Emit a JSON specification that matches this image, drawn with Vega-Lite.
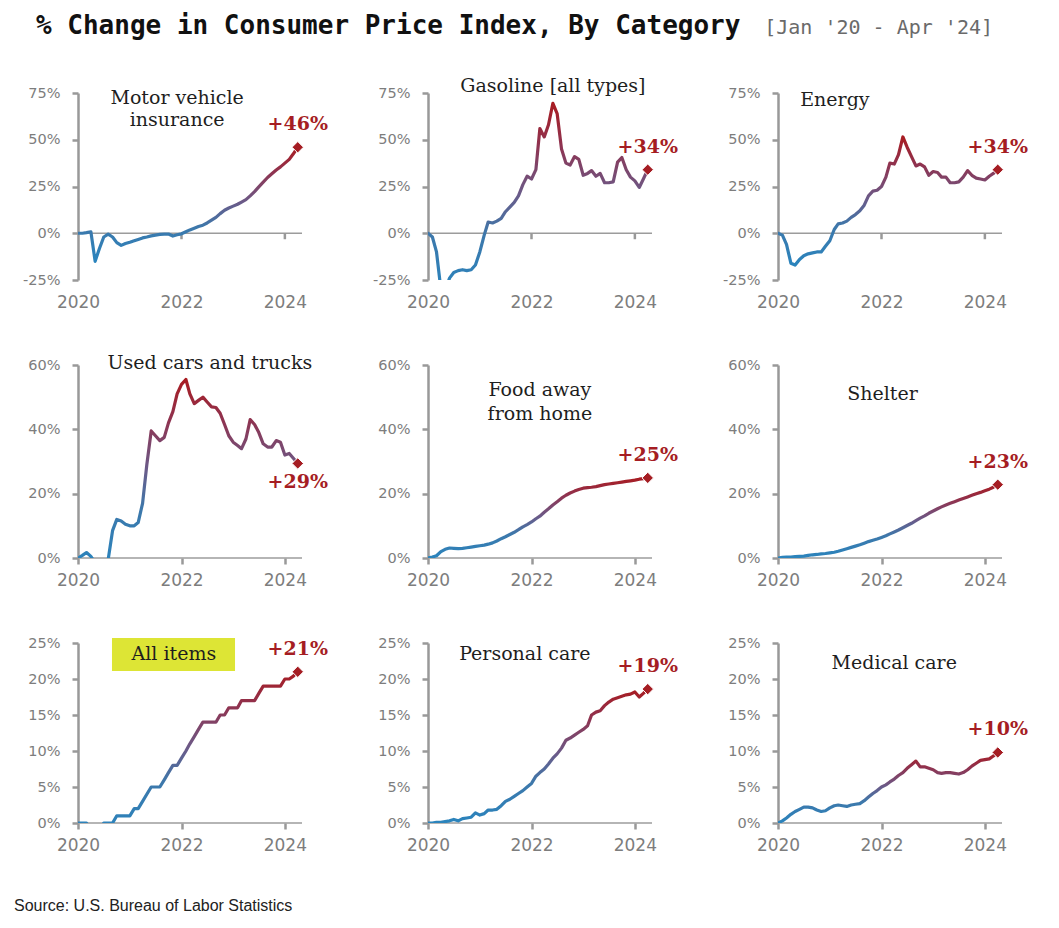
{
  "$schema": "https://vega.github.io/schema/vega-lite/v6.json",
  "background": "white",
  "padding": {"left": 14, "top": 13, "right": 5, "bottom": 5},
  "columns": 3,
  "spacing": {"row": 85, "column": 126},
  "bounds": "flush",
  "datasets": {
    "mvi": [{"m":"2020-01","v":0},{"m":"2020-02","v":0},{"m":"2020-03","v":0.3},{"m":"2020-04","v":0.8},{"m":"2020-05","v":-15},{"m":"2020-06","v":-8},{"m":"2020-07","v":-2},{"m":"2020-08","v":-0.5},{"m":"2020-09","v":-2},{"m":"2020-10","v":-5},{"m":"2020-11","v":-6.5},{"m":"2020-12","v":-5.5},{"m":"2021-01","v":-4.8},{"m":"2021-02","v":-4},{"m":"2021-03","v":-3.3},{"m":"2021-04","v":-2.5},{"m":"2021-05","v":-2},{"m":"2021-06","v":-1.4},{"m":"2021-07","v":-1},{"m":"2021-08","v":-0.6},{"m":"2021-09","v":-0.5},{"m":"2021-10","v":-0.4},{"m":"2021-11","v":-1.5},{"m":"2021-12","v":-0.8},{"m":"2022-01","v":-0.3},{"m":"2022-02","v":0.8},{"m":"2022-03","v":1.8},{"m":"2022-04","v":2.7},{"m":"2022-05","v":3.6},{"m":"2022-06","v":4.3},{"m":"2022-07","v":5.5},{"m":"2022-08","v":7},{"m":"2022-09","v":8.5},{"m":"2022-10","v":10.5},{"m":"2022-11","v":12.3},{"m":"2022-12","v":13.5},{"m":"2023-01","v":14.5},{"m":"2023-02","v":15.5},{"m":"2023-03","v":16.7},{"m":"2023-04","v":18},{"m":"2023-05","v":20},{"m":"2023-06","v":22.3},{"m":"2023-07","v":24.8},{"m":"2023-08","v":27.3},{"m":"2023-09","v":29.8},{"m":"2023-10","v":31.8},{"m":"2023-11","v":33.8},{"m":"2023-12","v":35.5},{"m":"2024-01","v":37.5},{"m":"2024-02","v":39.5},{"m":"2024-03","v":42.5},{"m":"2024-04","v":46}],
    "gas": [{"m":"2020-01","v":0},{"m":"2020-02","v":-2},{"m":"2020-03","v":-10},{"m":"2020-04","v":-30},{"m":"2020-05","v":-31},{"m":"2020-06","v":-24},{"m":"2020-07","v":-21},{"m":"2020-08","v":-20},{"m":"2020-09","v":-19.5},{"m":"2020-10","v":-20},{"m":"2020-11","v":-19.5},{"m":"2020-12","v":-17},{"m":"2021-01","v":-10},{"m":"2021-02","v":-1},{"m":"2021-03","v":6},{"m":"2021-04","v":5.5},{"m":"2021-05","v":6.5},{"m":"2021-06","v":8},{"m":"2021-07","v":11.5},{"m":"2021-08","v":14},{"m":"2021-09","v":16.5},{"m":"2021-10","v":20},{"m":"2021-11","v":26},{"m":"2021-12","v":30.5},{"m":"2022-01","v":29},{"m":"2022-02","v":34},{"m":"2022-03","v":56},{"m":"2022-04","v":51.5},{"m":"2022-05","v":58},{"m":"2022-06","v":69.5},{"m":"2022-07","v":64},{"m":"2022-08","v":45},{"m":"2022-09","v":37.5},{"m":"2022-10","v":36.5},{"m":"2022-11","v":41},{"m":"2022-12","v":39.5},{"m":"2023-01","v":31},{"m":"2023-02","v":32},{"m":"2023-03","v":33.5},{"m":"2023-04","v":30.5},{"m":"2023-05","v":32},{"m":"2023-06","v":27},{"m":"2023-07","v":27},{"m":"2023-08","v":27.5},{"m":"2023-09","v":38},{"m":"2023-10","v":40.5},{"m":"2023-11","v":34},{"m":"2023-12","v":30},{"m":"2024-01","v":28},{"m":"2024-02","v":24.5},{"m":"2024-03","v":29},{"m":"2024-04","v":34}],
    "energy": [{"m":"2020-01","v":0},{"m":"2020-02","v":-1},{"m":"2020-03","v":-6},{"m":"2020-04","v":-16},{"m":"2020-05","v":-17},{"m":"2020-06","v":-14},{"m":"2020-07","v":-12},{"m":"2020-08","v":-11},{"m":"2020-09","v":-10.5},{"m":"2020-10","v":-10},{"m":"2020-11","v":-10},{"m":"2020-12","v":-7},{"m":"2021-01","v":-4},{"m":"2021-02","v":2},{"m":"2021-03","v":5},{"m":"2021-04","v":5.5},{"m":"2021-05","v":6.5},{"m":"2021-06","v":8.5},{"m":"2021-07","v":10},{"m":"2021-08","v":12},{"m":"2021-09","v":15},{"m":"2021-10","v":20},{"m":"2021-11","v":22.5},{"m":"2021-12","v":23},{"m":"2022-01","v":25},{"m":"2022-02","v":30},{"m":"2022-03","v":37.5},{"m":"2022-04","v":37},{"m":"2022-05","v":42},{"m":"2022-06","v":51.5},{"m":"2022-07","v":46},{"m":"2022-08","v":41},{"m":"2022-09","v":36},{"m":"2022-10","v":37},{"m":"2022-11","v":35.5},{"m":"2022-12","v":31},{"m":"2023-01","v":33},{"m":"2023-02","v":32.5},{"m":"2023-03","v":30},{"m":"2023-04","v":30},{"m":"2023-05","v":27},{"m":"2023-06","v":27},{"m":"2023-07","v":27.5},{"m":"2023-08","v":30},{"m":"2023-09","v":33.5},{"m":"2023-10","v":31},{"m":"2023-11","v":29.5},{"m":"2023-12","v":29},{"m":"2024-01","v":28.5},{"m":"2024-02","v":30.5},{"m":"2024-03","v":32},{"m":"2024-04","v":34}],
    "used": [{"m":"2020-01","v":0},{"m":"2020-02","v":0.8},{"m":"2020-03","v":1.7},{"m":"2020-04","v":0.5},{"m":"2020-05","v":-1.5},{"m":"2020-06","v":-2},{"m":"2020-07","v":-1},{"m":"2020-08","v":-0.5},{"m":"2020-09","v":8.5},{"m":"2020-10","v":12},{"m":"2020-11","v":11.5},{"m":"2020-12","v":10.5},{"m":"2021-01","v":10},{"m":"2021-02","v":10},{"m":"2021-03","v":11},{"m":"2021-04","v":17},{"m":"2021-05","v":29},{"m":"2021-06","v":39.5},{"m":"2021-07","v":38},{"m":"2021-08","v":36.5},{"m":"2021-09","v":37.5},{"m":"2021-10","v":42},{"m":"2021-11","v":45.5},{"m":"2021-12","v":51},{"m":"2022-01","v":54},{"m":"2022-02","v":55.5},{"m":"2022-03","v":51},{"m":"2022-04","v":48},{"m":"2022-05","v":49},{"m":"2022-06","v":50},{"m":"2022-07","v":48.5},{"m":"2022-08","v":47},{"m":"2022-09","v":46.8},{"m":"2022-10","v":45},{"m":"2022-11","v":41.5},{"m":"2022-12","v":38},{"m":"2023-01","v":36},{"m":"2023-02","v":35},{"m":"2023-03","v":34},{"m":"2023-04","v":37},{"m":"2023-05","v":43},{"m":"2023-06","v":41.5},{"m":"2023-07","v":39},{"m":"2023-08","v":35.5},{"m":"2023-09","v":34.5},{"m":"2023-10","v":34.5},{"m":"2023-11","v":36.5},{"m":"2023-12","v":36},{"m":"2024-01","v":32},{"m":"2024-02","v":32.5},{"m":"2024-03","v":31},{"m":"2024-04","v":29.4}],
    "food": [{"m":"2020-01","v":0},{"m":"2020-02","v":0.3},{"m":"2020-03","v":0.7},{"m":"2020-04","v":2},{"m":"2020-05","v":2.7},{"m":"2020-06","v":3.1},{"m":"2020-07","v":3},{"m":"2020-08","v":2.9},{"m":"2020-09","v":3},{"m":"2020-10","v":3.2},{"m":"2020-11","v":3.4},{"m":"2020-12","v":3.6},{"m":"2021-01","v":3.8},{"m":"2021-02","v":4},{"m":"2021-03","v":4.3},{"m":"2021-04","v":4.7},{"m":"2021-05","v":5.3},{"m":"2021-06","v":6},{"m":"2021-07","v":6.6},{"m":"2021-08","v":7.3},{"m":"2021-09","v":8},{"m":"2021-10","v":8.8},{"m":"2021-11","v":9.7},{"m":"2021-12","v":10.4},{"m":"2022-01","v":11.2},{"m":"2022-02","v":12.2},{"m":"2022-03","v":13},{"m":"2022-04","v":14.2},{"m":"2022-05","v":15.3},{"m":"2022-06","v":16.5},{"m":"2022-07","v":17.5},{"m":"2022-08","v":18.6},{"m":"2022-09","v":19.5},{"m":"2022-10","v":20.2},{"m":"2022-11","v":20.8},{"m":"2022-12","v":21.3},{"m":"2023-01","v":21.7},{"m":"2023-02","v":21.9},{"m":"2023-03","v":22},{"m":"2023-04","v":22.2},{"m":"2023-05","v":22.5},{"m":"2023-06","v":22.8},{"m":"2023-07","v":23},{"m":"2023-08","v":23.2},{"m":"2023-09","v":23.4},{"m":"2023-10","v":23.6},{"m":"2023-11","v":23.8},{"m":"2023-12","v":24},{"m":"2024-01","v":24.2},{"m":"2024-02","v":24.5},{"m":"2024-03","v":24.7},{"m":"2024-04","v":24.9}],
    "shelter": [{"m":"2020-01","v":0},{"m":"2020-02","v":0.2},{"m":"2020-03","v":0.3},{"m":"2020-04","v":0.3},{"m":"2020-05","v":0.4},{"m":"2020-06","v":0.5},{"m":"2020-07","v":0.6},{"m":"2020-08","v":0.8},{"m":"2020-09","v":1},{"m":"2020-10","v":1.1},{"m":"2020-11","v":1.3},{"m":"2020-12","v":1.4},{"m":"2021-01","v":1.6},{"m":"2021-02","v":1.8},{"m":"2021-03","v":2.1},{"m":"2021-04","v":2.5},{"m":"2021-05","v":2.9},{"m":"2021-06","v":3.3},{"m":"2021-07","v":3.7},{"m":"2021-08","v":4.1},{"m":"2021-09","v":4.6},{"m":"2021-10","v":5.1},{"m":"2021-11","v":5.5},{"m":"2021-12","v":5.9},{"m":"2022-01","v":6.4},{"m":"2022-02","v":6.9},{"m":"2022-03","v":7.5},{"m":"2022-04","v":8.1},{"m":"2022-05","v":8.7},{"m":"2022-06","v":9.4},{"m":"2022-07","v":10.1},{"m":"2022-08","v":10.8},{"m":"2022-09","v":11.6},{"m":"2022-10","v":12.4},{"m":"2022-11","v":13.1},{"m":"2022-12","v":13.9},{"m":"2023-01","v":14.6},{"m":"2023-02","v":15.3},{"m":"2023-03","v":15.9},{"m":"2023-04","v":16.5},{"m":"2023-05","v":17},{"m":"2023-06","v":17.5},{"m":"2023-07","v":18},{"m":"2023-08","v":18.5},{"m":"2023-09","v":19},{"m":"2023-10","v":19.5},{"m":"2023-11","v":20},{"m":"2023-12","v":20.4},{"m":"2024-01","v":20.9},{"m":"2024-02","v":21.4},{"m":"2024-03","v":22},{"m":"2024-04","v":22.8}],
    "all": [{"m":"2020-01","v":0},{"m":"2020-02","v":0},{"m":"2020-03","v":0},{"m":"2020-04","v":-1},{"m":"2020-05","v":-1},{"m":"2020-06","v":-1},{"m":"2020-07","v":0},{"m":"2020-08","v":0},{"m":"2020-09","v":0},{"m":"2020-10","v":1},{"m":"2020-11","v":1},{"m":"2020-12","v":1},{"m":"2021-01","v":1},{"m":"2021-02","v":2},{"m":"2021-03","v":2},{"m":"2021-04","v":3},{"m":"2021-05","v":4},{"m":"2021-06","v":5},{"m":"2021-07","v":5},{"m":"2021-08","v":5},{"m":"2021-09","v":6},{"m":"2021-10","v":7},{"m":"2021-11","v":8},{"m":"2021-12","v":8},{"m":"2022-01","v":9},{"m":"2022-02","v":10},{"m":"2022-03","v":11},{"m":"2022-04","v":12},{"m":"2022-05","v":13},{"m":"2022-06","v":14},{"m":"2022-07","v":14},{"m":"2022-08","v":14},{"m":"2022-09","v":14},{"m":"2022-10","v":15},{"m":"2022-11","v":15},{"m":"2022-12","v":16},{"m":"2023-01","v":16},{"m":"2023-02","v":16},{"m":"2023-03","v":17},{"m":"2023-04","v":17},{"m":"2023-05","v":17},{"m":"2023-06","v":17},{"m":"2023-07","v":18},{"m":"2023-08","v":19},{"m":"2023-09","v":19},{"m":"2023-10","v":19},{"m":"2023-11","v":19},{"m":"2023-12","v":19},{"m":"2024-01","v":20},{"m":"2024-02","v":20},{"m":"2024-03","v":20.4},{"m":"2024-04","v":21}],
    "personal": [{"m":"2020-01","v":0},{"m":"2020-02","v":0},{"m":"2020-03","v":0.1},{"m":"2020-04","v":0.1},{"m":"2020-05","v":0.2},{"m":"2020-06","v":0.3},{"m":"2020-07","v":0.5},{"m":"2020-08","v":0.3},{"m":"2020-09","v":0.6},{"m":"2020-10","v":0.7},{"m":"2020-11","v":0.8},{"m":"2020-12","v":1.4},{"m":"2021-01","v":1.1},{"m":"2021-02","v":1.3},{"m":"2021-03","v":1.8},{"m":"2021-04","v":1.8},{"m":"2021-05","v":1.9},{"m":"2021-06","v":2.4},{"m":"2021-07","v":3},{"m":"2021-08","v":3.3},{"m":"2021-09","v":3.7},{"m":"2021-10","v":4.1},{"m":"2021-11","v":4.5},{"m":"2021-12","v":5},{"m":"2022-01","v":5.5},{"m":"2022-02","v":6.5},{"m":"2022-03","v":7},{"m":"2022-04","v":7.5},{"m":"2022-05","v":8.2},{"m":"2022-06","v":9},{"m":"2022-07","v":9.6},{"m":"2022-08","v":10.4},{"m":"2022-09","v":11.5},{"m":"2022-10","v":11.8},{"m":"2022-11","v":12.2},{"m":"2022-12","v":12.6},{"m":"2023-01","v":13},{"m":"2023-02","v":13.5},{"m":"2023-03","v":15},{"m":"2023-04","v":15.4},{"m":"2023-05","v":15.6},{"m":"2023-06","v":16.3},{"m":"2023-07","v":16.8},{"m":"2023-08","v":17.2},{"m":"2023-09","v":17.4},{"m":"2023-10","v":17.6},{"m":"2023-11","v":17.8},{"m":"2023-12","v":17.9},{"m":"2024-01","v":18.2},{"m":"2024-02","v":17.5},{"m":"2024-03","v":18},{"m":"2024-04","v":18.6}],
    "medical": [{"m":"2020-01","v":0},{"m":"2020-02","v":0.3},{"m":"2020-03","v":0.7},{"m":"2020-04","v":1.2},{"m":"2020-05","v":1.6},{"m":"2020-06","v":1.9},{"m":"2020-07","v":2.2},{"m":"2020-08","v":2.2},{"m":"2020-09","v":2.1},{"m":"2020-10","v":1.8},{"m":"2020-11","v":1.6},{"m":"2020-12","v":1.7},{"m":"2021-01","v":2.1},{"m":"2021-02","v":2.4},{"m":"2021-03","v":2.5},{"m":"2021-04","v":2.4},{"m":"2021-05","v":2.3},{"m":"2021-06","v":2.5},{"m":"2021-07","v":2.6},{"m":"2021-08","v":2.7},{"m":"2021-09","v":3.1},{"m":"2021-10","v":3.6},{"m":"2021-11","v":4.1},{"m":"2021-12","v":4.5},{"m":"2022-01","v":5},{"m":"2022-02","v":5.3},{"m":"2022-03","v":5.7},{"m":"2022-04","v":6.1},{"m":"2022-05","v":6.6},{"m":"2022-06","v":7},{"m":"2022-07","v":7.6},{"m":"2022-08","v":8.1},{"m":"2022-09","v":8.6},{"m":"2022-10","v":7.8},{"m":"2022-11","v":7.8},{"m":"2022-12","v":7.6},{"m":"2023-01","v":7.4},{"m":"2023-02","v":7},{"m":"2023-03","v":6.9},{"m":"2023-04","v":7},{"m":"2023-05","v":7},{"m":"2023-06","v":6.9},{"m":"2023-07","v":6.8},{"m":"2023-08","v":7},{"m":"2023-09","v":7.4},{"m":"2023-10","v":7.9},{"m":"2023-11","v":8.3},{"m":"2023-12","v":8.7},{"m":"2024-01","v":8.8},{"m":"2024-02","v":8.9},{"m":"2024-03","v":9.3},{"m":"2024-04","v":9.8}]
  },
  "concat": [
    {
      "width": 224, "height": 187,
      "data": {"name": "mvi"},
      "title": {"text": "% Change in Consumer Price Index, By Category", "anchor": "start", "frame": "group", "dx": -42, "offset": 25, "font": "DejaVu Sans Mono", "fontSize": 26, "fontWeight": "bold", "color": "#111111", "baseline": "alphabetic"},
      "encoding": {
        "x": {"field": "m", "type": "temporal", "scale": {"type": "utc", "domain": [{"year": 2020, "month": 1, "date": 1, "utc": true}, {"year": 2024, "month": 5, "date": 1, "utc": true}]}, "axis": {"values": [{"year": 2020, "month": 1, "date": 1, "utc": true}, {"year": 2022, "month": 1, "date": 1, "utc": true}, {"year": 2024, "month": 1, "date": 1, "utc": true}], "format": "%Y", "formatType": "utc", "ticks": false, "labelPadding": 14}},
        "y": {"field": "v", "type": "quantitative", "scale": {"domain": [-25, 75], "nice": false, "zero": false}, "axis": {"values": [-25, 0, 25, 50, 75], "labelExpr": "datum.value + '%'", "labelOverlap": false}}
      },
      "layer": [
        {"transform": [{"filter": "time(toDate(datum.m)) === utc(2024,3,1)"}], "mark": {"type": "rule", "color": "#9c9c9c", "strokeWidth": 1.6}, "encoding": {"x": null, "y": {"datum": 0, "type": "quantitative"}}},
        {"transform": [{"filter": "time(toDate(datum.m)) === utc(2022,0,1) || time(toDate(datum.m)) === utc(2024,0,1)"}], "mark": {"type": "rule", "color": "#999999", "strokeWidth": 2.5}, "encoding": {"y": {"datum": 0, "type": "quantitative"}, "y2": {"datum": -3.2}}},
        {"mark": {"type": "line", "clip": true, "strokeWidth": 3.2, "strokeJoin": "round", "strokeCap": "round", "color": {"gradient": "linear", "x1": 0, "y1": 1, "x2": 0, "y2": 0, "stops": [{"offset": 0, "color": "#2a84bd"}, {"offset": 0.3, "color": "#3d78ab"}, {"offset": 0.52, "color": "#6b5a88"}, {"offset": 0.78, "color": "#8f3350"}, {"offset": 1, "color": "#a81c22"}]}}},
        {"transform": [{"filter": "time(toDate(datum.m)) === utc(2024,3,1)"}], "mark": {"type": "point", "shape": "diamond", "filled": true, "size": 130, "color": "#a51d23", "stroke": "white", "strokeWidth": 1, "opacity": 1}},
        {"transform": [{"filter": "time(toDate(datum.m)) === utc(2024,3,1)"}, {"calculate": "'+' + format(datum.v, '.0f') + '%'", "as": "lbl"}], "mark": {"type": "text", "font": "DejaVu Serif", "fontSize": 19, "fontWeight": "bold", "color": "#a51d23", "align": "center", "baseline": "alphabetic", "dy": -17}, "encoding": {"text": {"field": "lbl"}}},
        {"transform": [{"filter": "time(toDate(datum.m)) === utc(2024,3,1)"}], "mark": {"type": "text", "text": ["Motor vehicle", "insurance"], "font": "DejaVu Serif", "fontSize": 19, "color": "#1e1e1e", "align": "center", "baseline": "alphabetic", "lineHeight": 22}, "encoding": {"x": {"datum": {"year": 2021, "month": 12, "date": 1, "utc": true}, "type": "temporal"}, "y": {"datum": 69, "type": "quantitative"}}}
      ]
    },
    {
      "width": 224, "height": 187,
      "data": {"name": "gas"},
      "encoding": {
        "x": {"field": "m", "type": "temporal", "scale": {"type": "utc", "domain": [{"year": 2020, "month": 1, "date": 1, "utc": true}, {"year": 2024, "month": 5, "date": 1, "utc": true}]}, "axis": {"values": [{"year": 2020, "month": 1, "date": 1, "utc": true}, {"year": 2022, "month": 1, "date": 1, "utc": true}, {"year": 2024, "month": 1, "date": 1, "utc": true}], "format": "%Y", "formatType": "utc", "ticks": false, "labelPadding": 14}},
        "y": {"field": "v", "type": "quantitative", "scale": {"domain": [-25, 75], "nice": false, "zero": false}, "axis": {"values": [-25, 0, 25, 50, 75], "labelExpr": "datum.value + '%'", "labelOverlap": false}}
      },
      "layer": [
        {"transform": [{"filter": "time(toDate(datum.m)) === utc(2024,3,1)"}], "mark": {"type": "rule", "color": "#9c9c9c", "strokeWidth": 1.6}, "encoding": {"x": null, "y": {"datum": 0, "type": "quantitative"}}},
        {"transform": [{"filter": "time(toDate(datum.m)) === utc(2022,0,1) || time(toDate(datum.m)) === utc(2024,0,1)"}], "mark": {"type": "rule", "color": "#999999", "strokeWidth": 2.5}, "encoding": {"y": {"datum": 0, "type": "quantitative"}, "y2": {"datum": -3.2}}},
        {"mark": {"type": "line", "clip": true, "strokeWidth": 3.2, "strokeJoin": "round", "strokeCap": "round", "color": {"gradient": "linear", "x1": 0, "y1": 1, "x2": 0, "y2": 0, "stops": [{"offset": 0, "color": "#2a84bd"}, {"offset": 0.3, "color": "#3d78ab"}, {"offset": 0.52, "color": "#6b5a88"}, {"offset": 0.78, "color": "#8f3350"}, {"offset": 1, "color": "#a81c22"}]}}},
        {"transform": [{"filter": "time(toDate(datum.m)) === utc(2024,3,1)"}], "mark": {"type": "point", "shape": "diamond", "filled": true, "size": 130, "color": "#a51d23", "stroke": "white", "strokeWidth": 1, "opacity": 1}},
        {"transform": [{"filter": "time(toDate(datum.m)) === utc(2024,3,1)"}, {"calculate": "'+' + format(datum.v, '.0f') + '%'", "as": "lbl"}], "mark": {"type": "text", "font": "DejaVu Serif", "fontSize": 19, "fontWeight": "bold", "color": "#a51d23", "align": "center", "baseline": "alphabetic", "dy": -17}, "encoding": {"text": {"field": "lbl"}}},
        {"transform": [{"filter": "time(toDate(datum.m)) === utc(2024,3,1)"}], "mark": {"type": "text", "text": "Gasoline [all types]", "font": "DejaVu Serif", "fontSize": 19, "color": "#1e1e1e", "align": "center", "baseline": "alphabetic"}, "encoding": {"x": {"datum": {"year": 2022, "month": 6, "date": 1, "utc": true}, "type": "temporal"}, "y": {"datum": 75.5, "type": "quantitative"}}}
      ]
    },
    {
      "width": 224, "height": 187,
      "data": {"name": "energy"},
      "title": {"text": "[Jan '20 - Apr '24]", "anchor": "end", "frame": "group", "dx": -9, "offset": 31, "font": "DejaVu Sans Mono", "fontSize": 20, "fontWeight": "normal", "color": "#6a6a6a", "baseline": "alphabetic"},
      "encoding": {
        "x": {"field": "m", "type": "temporal", "scale": {"type": "utc", "domain": [{"year": 2020, "month": 1, "date": 1, "utc": true}, {"year": 2024, "month": 5, "date": 1, "utc": true}]}, "axis": {"values": [{"year": 2020, "month": 1, "date": 1, "utc": true}, {"year": 2022, "month": 1, "date": 1, "utc": true}, {"year": 2024, "month": 1, "date": 1, "utc": true}], "format": "%Y", "formatType": "utc", "ticks": false, "labelPadding": 14}},
        "y": {"field": "v", "type": "quantitative", "scale": {"domain": [-25, 75], "nice": false, "zero": false}, "axis": {"values": [-25, 0, 25, 50, 75], "labelExpr": "datum.value + '%'", "labelOverlap": false}}
      },
      "layer": [
        {"transform": [{"filter": "time(toDate(datum.m)) === utc(2024,3,1)"}], "mark": {"type": "rule", "color": "#9c9c9c", "strokeWidth": 1.6}, "encoding": {"x": null, "y": {"datum": 0, "type": "quantitative"}}},
        {"transform": [{"filter": "time(toDate(datum.m)) === utc(2022,0,1) || time(toDate(datum.m)) === utc(2024,0,1)"}], "mark": {"type": "rule", "color": "#999999", "strokeWidth": 2.5}, "encoding": {"y": {"datum": 0, "type": "quantitative"}, "y2": {"datum": -3.2}}},
        {"mark": {"type": "line", "clip": true, "strokeWidth": 3.2, "strokeJoin": "round", "strokeCap": "round", "color": {"gradient": "linear", "x1": 0, "y1": 1, "x2": 0, "y2": 0, "stops": [{"offset": 0, "color": "#2a84bd"}, {"offset": 0.3, "color": "#3d78ab"}, {"offset": 0.52, "color": "#6b5a88"}, {"offset": 0.78, "color": "#8f3350"}, {"offset": 1, "color": "#a81c22"}]}}},
        {"transform": [{"filter": "time(toDate(datum.m)) === utc(2024,3,1)"}], "mark": {"type": "point", "shape": "diamond", "filled": true, "size": 130, "color": "#a51d23", "stroke": "white", "strokeWidth": 1, "opacity": 1}},
        {"transform": [{"filter": "time(toDate(datum.m)) === utc(2024,3,1)"}, {"calculate": "'+' + format(datum.v, '.0f') + '%'", "as": "lbl"}], "mark": {"type": "text", "font": "DejaVu Serif", "fontSize": 19, "fontWeight": "bold", "color": "#a51d23", "align": "center", "baseline": "alphabetic", "dy": -17}, "encoding": {"text": {"field": "lbl"}}},
        {"transform": [{"filter": "time(toDate(datum.m)) === utc(2024,3,1)"}], "mark": {"type": "text", "text": "Energy", "font": "DejaVu Serif", "fontSize": 19, "color": "#1e1e1e", "align": "center", "baseline": "alphabetic"}, "encoding": {"x": {"datum": {"year": 2021, "month": 2, "date": 6, "utc": true}, "type": "temporal"}, "y": {"datum": 68, "type": "quantitative"}}}
      ]
    },
    {
      "width": 224, "height": 193,
      "data": {"name": "used"},
      "encoding": {
        "x": {"field": "m", "type": "temporal", "scale": {"type": "utc", "domain": [{"year": 2020, "month": 1, "date": 1, "utc": true}, {"year": 2024, "month": 5, "date": 1, "utc": true}]}, "axis": {"values": [{"year": 2020, "month": 1, "date": 1, "utc": true}, {"year": 2022, "month": 1, "date": 1, "utc": true}, {"year": 2024, "month": 1, "date": 1, "utc": true}], "format": "%Y", "formatType": "utc", "ticks": true, "labelPadding": 8}},
        "y": {"field": "v", "type": "quantitative", "scale": {"domain": [0, 60], "nice": false}, "axis": {"values": [0, 20, 40, 60], "labelExpr": "datum.value + '%'", "labelOverlap": false}}
      },
      "layer": [
        {"transform": [{"filter": "time(toDate(datum.m)) === utc(2024,3,1)"}], "mark": {"type": "rule", "color": "#9c9c9c", "strokeWidth": 1.6}, "encoding": {"x": null, "y": {"datum": 0, "type": "quantitative"}}},
        {"mark": {"type": "line", "clip": true, "strokeWidth": 3.2, "strokeJoin": "round", "strokeCap": "round", "color": {"gradient": "linear", "x1": 0, "y1": 1, "x2": 0, "y2": 0, "stops": [{"offset": 0, "color": "#2a84bd"}, {"offset": 0.3, "color": "#3d78ab"}, {"offset": 0.52, "color": "#6b5a88"}, {"offset": 0.78, "color": "#8f3350"}, {"offset": 1, "color": "#a81c22"}]}}},
        {"transform": [{"filter": "time(toDate(datum.m)) === utc(2024,3,1)"}], "mark": {"type": "point", "shape": "diamond", "filled": true, "size": 130, "color": "#a51d23", "stroke": "white", "strokeWidth": 1, "opacity": 1}},
        {"transform": [{"filter": "time(toDate(datum.m)) === utc(2024,3,1)"}, {"calculate": "'+' + format(datum.v, '.0f') + '%'", "as": "lbl"}], "mark": {"type": "text", "font": "DejaVu Serif", "fontSize": 19, "fontWeight": "bold", "color": "#a51d23", "align": "center", "baseline": "top", "dy": 10}, "encoding": {"text": {"field": "lbl"}}},
        {"transform": [{"filter": "time(toDate(datum.m)) === utc(2024,3,1)"}], "mark": {"type": "text", "text": "Used cars and trucks", "font": "DejaVu Serif", "fontSize": 19, "color": "#1e1e1e", "align": "center", "baseline": "alphabetic"}, "encoding": {"x": {"datum": {"year": 2022, "month": 7, "date": 20, "utc": true}, "type": "temporal"}, "y": {"datum": 58.8, "type": "quantitative"}}}
      ]
    },
    {
      "width": 224, "height": 193,
      "data": {"name": "food"},
      "encoding": {
        "x": {"field": "m", "type": "temporal", "scale": {"type": "utc", "domain": [{"year": 2020, "month": 1, "date": 1, "utc": true}, {"year": 2024, "month": 5, "date": 1, "utc": true}]}, "axis": {"values": [{"year": 2020, "month": 1, "date": 1, "utc": true}, {"year": 2022, "month": 1, "date": 1, "utc": true}, {"year": 2024, "month": 1, "date": 1, "utc": true}], "format": "%Y", "formatType": "utc", "ticks": true, "labelPadding": 8}},
        "y": {"field": "v", "type": "quantitative", "scale": {"domain": [0, 60], "nice": false}, "axis": {"values": [0, 20, 40, 60], "labelExpr": "datum.value + '%'", "labelOverlap": false}}
      },
      "layer": [
        {"transform": [{"filter": "time(toDate(datum.m)) === utc(2024,3,1)"}], "mark": {"type": "rule", "color": "#9c9c9c", "strokeWidth": 1.6}, "encoding": {"x": null, "y": {"datum": 0, "type": "quantitative"}}},
        {"mark": {"type": "line", "clip": true, "strokeWidth": 3.2, "strokeJoin": "round", "strokeCap": "round", "color": {"gradient": "linear", "x1": 0, "y1": 1, "x2": 0, "y2": 0, "stops": [{"offset": 0, "color": "#2a84bd"}, {"offset": 0.3, "color": "#3d78ab"}, {"offset": 0.52, "color": "#6b5a88"}, {"offset": 0.78, "color": "#8f3350"}, {"offset": 1, "color": "#a81c22"}]}}},
        {"transform": [{"filter": "time(toDate(datum.m)) === utc(2024,3,1)"}], "mark": {"type": "point", "shape": "diamond", "filled": true, "size": 130, "color": "#a51d23", "stroke": "white", "strokeWidth": 1, "opacity": 1}},
        {"transform": [{"filter": "time(toDate(datum.m)) === utc(2024,3,1)"}, {"calculate": "'+' + format(datum.v, '.0f') + '%'", "as": "lbl"}], "mark": {"type": "text", "font": "DejaVu Serif", "fontSize": 19, "fontWeight": "bold", "color": "#a51d23", "align": "center", "baseline": "alphabetic", "dy": -17}, "encoding": {"text": {"field": "lbl"}}},
        {"transform": [{"filter": "time(toDate(datum.m)) === utc(2024,3,1)"}], "mark": {"type": "text", "text": ["Food away", "from home"], "font": "DejaVu Serif", "fontSize": 19, "color": "#1e1e1e", "align": "center", "baseline": "alphabetic", "lineHeight": 24}, "encoding": {"x": {"datum": {"year": 2022, "month": 3, "date": 1, "utc": true}, "type": "temporal"}, "y": {"datum": 50.3, "type": "quantitative"}}}
      ]
    },
    {
      "width": 224, "height": 193,
      "data": {"name": "shelter"},
      "encoding": {
        "x": {"field": "m", "type": "temporal", "scale": {"type": "utc", "domain": [{"year": 2020, "month": 1, "date": 1, "utc": true}, {"year": 2024, "month": 5, "date": 1, "utc": true}]}, "axis": {"values": [{"year": 2020, "month": 1, "date": 1, "utc": true}, {"year": 2022, "month": 1, "date": 1, "utc": true}, {"year": 2024, "month": 1, "date": 1, "utc": true}], "format": "%Y", "formatType": "utc", "ticks": true, "labelPadding": 8}},
        "y": {"field": "v", "type": "quantitative", "scale": {"domain": [0, 60], "nice": false}, "axis": {"values": [0, 20, 40, 60], "labelExpr": "datum.value + '%'", "labelOverlap": false}}
      },
      "layer": [
        {"transform": [{"filter": "time(toDate(datum.m)) === utc(2024,3,1)"}], "mark": {"type": "rule", "color": "#9c9c9c", "strokeWidth": 1.6}, "encoding": {"x": null, "y": {"datum": 0, "type": "quantitative"}}},
        {"mark": {"type": "line", "clip": true, "strokeWidth": 3.2, "strokeJoin": "round", "strokeCap": "round", "color": {"gradient": "linear", "x1": 0, "y1": 1, "x2": 0, "y2": 0, "stops": [{"offset": 0, "color": "#2a84bd"}, {"offset": 0.3, "color": "#3d78ab"}, {"offset": 0.52, "color": "#6b5a88"}, {"offset": 0.78, "color": "#8f3350"}, {"offset": 1, "color": "#a81c22"}]}}},
        {"transform": [{"filter": "time(toDate(datum.m)) === utc(2024,3,1)"}], "mark": {"type": "point", "shape": "diamond", "filled": true, "size": 130, "color": "#a51d23", "stroke": "white", "strokeWidth": 1, "opacity": 1}},
        {"transform": [{"filter": "time(toDate(datum.m)) === utc(2024,3,1)"}, {"calculate": "'+' + format(datum.v, '.0f') + '%'", "as": "lbl"}], "mark": {"type": "text", "font": "DejaVu Serif", "fontSize": 19, "fontWeight": "bold", "color": "#a51d23", "align": "center", "baseline": "alphabetic", "dy": -17}, "encoding": {"text": {"field": "lbl"}}},
        {"transform": [{"filter": "time(toDate(datum.m)) === utc(2024,3,1)"}], "mark": {"type": "text", "text": "Shelter", "font": "DejaVu Serif", "fontSize": 19, "color": "#1e1e1e", "align": "center", "baseline": "alphabetic"}, "encoding": {"x": {"datum": {"year": 2022, "month": 1, "date": 8, "utc": true}, "type": "temporal"}, "y": {"datum": 49, "type": "quantitative"}}}
      ]
    },
    {
      "width": 224, "height": 180,
      "data": {"name": "all"},
      "title": {"text": "Source: U.S. Bureau of Labor Statistics", "orient": "bottom", "anchor": "start", "frame": "group", "dx": -64, "offset": 45, "font": "Liberation Sans", "fontSize": 16, "fontWeight": "normal", "color": "#222222"},
      "encoding": {
        "x": {"field": "m", "type": "temporal", "scale": {"type": "utc", "domain": [{"year": 2020, "month": 1, "date": 1, "utc": true}, {"year": 2024, "month": 5, "date": 1, "utc": true}]}, "axis": {"values": [{"year": 2020, "month": 1, "date": 1, "utc": true}, {"year": 2022, "month": 1, "date": 1, "utc": true}, {"year": 2024, "month": 1, "date": 1, "utc": true}], "format": "%Y", "formatType": "utc", "ticks": true, "labelPadding": 8}},
        "y": {"field": "v", "type": "quantitative", "scale": {"domain": [0, 25], "nice": false}, "axis": {"values": [0, 5, 10, 15, 20, 25], "labelExpr": "datum.value + '%'", "labelOverlap": false}}
      },
      "layer": [
        {"transform": [{"filter": "time(toDate(datum.m)) === utc(2024,3,1)"}], "mark": {"type": "rule", "color": "#9c9c9c", "strokeWidth": 1.6}, "encoding": {"x": null, "y": {"datum": 0, "type": "quantitative"}}},
        {"mark": {"type": "line", "clip": true, "strokeWidth": 3.2, "strokeJoin": "round", "strokeCap": "round", "color": {"gradient": "linear", "x1": 0, "y1": 1, "x2": 0, "y2": 0, "stops": [{"offset": 0, "color": "#2a84bd"}, {"offset": 0.3, "color": "#3d78ab"}, {"offset": 0.52, "color": "#6b5a88"}, {"offset": 0.78, "color": "#8f3350"}, {"offset": 1, "color": "#a81c22"}]}}},
        {"transform": [{"filter": "time(toDate(datum.m)) === utc(2024,3,1)"}], "mark": {"type": "point", "shape": "diamond", "filled": true, "size": 130, "color": "#a51d23", "stroke": "white", "strokeWidth": 1, "opacity": 1}},
        {"transform": [{"filter": "time(toDate(datum.m)) === utc(2024,3,1)"}, {"calculate": "'+' + format(datum.v, '.0f') + '%'", "as": "lbl"}], "mark": {"type": "text", "font": "DejaVu Serif", "fontSize": 19, "fontWeight": "bold", "color": "#a51d23", "align": "center", "baseline": "alphabetic", "dy": -17}, "encoding": {"text": {"field": "lbl"}}},
        {"transform": [{"filter": "time(toDate(datum.m)) === utc(2024,3,1)"}], "mark": {"type": "rect", "color": "#dde535"}, "encoding": {"x": {"datum": {"year": 2020, "month": 8, "date": 28, "utc": true}, "type": "temporal"}, "x2": {"datum": {"year": 2023, "month": 1, "date": 14, "utc": true}}, "y": {"datum": 21.1, "type": "quantitative"}, "y2": {"datum": 25.7}}},
        {"transform": [{"filter": "time(toDate(datum.m)) === utc(2024,3,1)"}], "mark": {"type": "text", "text": "All items", "font": "DejaVu Serif", "fontSize": 19, "color": "#1e1e1e", "align": "center", "baseline": "alphabetic"}, "encoding": {"x": {"datum": {"year": 2021, "month": 11, "date": 8, "utc": true}, "type": "temporal"}, "y": {"datum": 22.7, "type": "quantitative"}}}
      ]
    },
    {
      "width": 224, "height": 180,
      "data": {"name": "personal"},
      "encoding": {
        "x": {"field": "m", "type": "temporal", "scale": {"type": "utc", "domain": [{"year": 2020, "month": 1, "date": 1, "utc": true}, {"year": 2024, "month": 5, "date": 1, "utc": true}]}, "axis": {"values": [{"year": 2020, "month": 1, "date": 1, "utc": true}, {"year": 2022, "month": 1, "date": 1, "utc": true}, {"year": 2024, "month": 1, "date": 1, "utc": true}], "format": "%Y", "formatType": "utc", "ticks": true, "labelPadding": 8}},
        "y": {"field": "v", "type": "quantitative", "scale": {"domain": [0, 25], "nice": false}, "axis": {"values": [0, 5, 10, 15, 20, 25], "labelExpr": "datum.value + '%'", "labelOverlap": false}}
      },
      "layer": [
        {"transform": [{"filter": "time(toDate(datum.m)) === utc(2024,3,1)"}], "mark": {"type": "rule", "color": "#9c9c9c", "strokeWidth": 1.6}, "encoding": {"x": null, "y": {"datum": 0, "type": "quantitative"}}},
        {"mark": {"type": "line", "clip": true, "strokeWidth": 3.2, "strokeJoin": "round", "strokeCap": "round", "color": {"gradient": "linear", "x1": 0, "y1": 1, "x2": 0, "y2": 0, "stops": [{"offset": 0, "color": "#2a84bd"}, {"offset": 0.3, "color": "#3d78ab"}, {"offset": 0.52, "color": "#6b5a88"}, {"offset": 0.78, "color": "#8f3350"}, {"offset": 1, "color": "#a81c22"}]}}},
        {"transform": [{"filter": "time(toDate(datum.m)) === utc(2024,3,1)"}], "mark": {"type": "point", "shape": "diamond", "filled": true, "size": 130, "color": "#a51d23", "stroke": "white", "strokeWidth": 1, "opacity": 1}},
        {"transform": [{"filter": "time(toDate(datum.m)) === utc(2024,3,1)"}, {"calculate": "'+' + format(datum.v, '.0f') + '%'", "as": "lbl"}], "mark": {"type": "text", "font": "DejaVu Serif", "fontSize": 19, "fontWeight": "bold", "color": "#a51d23", "align": "center", "baseline": "alphabetic", "dy": -17}, "encoding": {"text": {"field": "lbl"}}},
        {"transform": [{"filter": "time(toDate(datum.m)) === utc(2024,3,1)"}], "mark": {"type": "text", "text": "Personal care", "font": "DejaVu Serif", "fontSize": 19, "color": "#1e1e1e", "align": "center", "baseline": "alphabetic"}, "encoding": {"x": {"datum": {"year": 2021, "month": 11, "date": 15, "utc": true}, "type": "temporal"}, "y": {"datum": 22.6, "type": "quantitative"}}}
      ]
    },
    {
      "width": 224, "height": 180,
      "data": {"name": "medical"},
      "encoding": {
        "x": {"field": "m", "type": "temporal", "scale": {"type": "utc", "domain": [{"year": 2020, "month": 1, "date": 1, "utc": true}, {"year": 2024, "month": 5, "date": 1, "utc": true}]}, "axis": {"values": [{"year": 2020, "month": 1, "date": 1, "utc": true}, {"year": 2022, "month": 1, "date": 1, "utc": true}, {"year": 2024, "month": 1, "date": 1, "utc": true}], "format": "%Y", "formatType": "utc", "ticks": true, "labelPadding": 8}},
        "y": {"field": "v", "type": "quantitative", "scale": {"domain": [0, 25], "nice": false}, "axis": {"values": [0, 5, 10, 15, 20, 25], "labelExpr": "datum.value + '%'", "labelOverlap": false}}
      },
      "layer": [
        {"transform": [{"filter": "time(toDate(datum.m)) === utc(2024,3,1)"}], "mark": {"type": "rule", "color": "#9c9c9c", "strokeWidth": 1.6}, "encoding": {"x": null, "y": {"datum": 0, "type": "quantitative"}}},
        {"mark": {"type": "line", "clip": true, "strokeWidth": 3.2, "strokeJoin": "round", "strokeCap": "round", "color": {"gradient": "linear", "x1": 0, "y1": 1, "x2": 0, "y2": 0, "stops": [{"offset": 0, "color": "#2a84bd"}, {"offset": 0.3, "color": "#3d78ab"}, {"offset": 0.52, "color": "#6b5a88"}, {"offset": 0.78, "color": "#8f3350"}, {"offset": 1, "color": "#a81c22"}]}}},
        {"transform": [{"filter": "time(toDate(datum.m)) === utc(2024,3,1)"}], "mark": {"type": "point", "shape": "diamond", "filled": true, "size": 130, "color": "#a51d23", "stroke": "white", "strokeWidth": 1, "opacity": 1}},
        {"transform": [{"filter": "time(toDate(datum.m)) === utc(2024,3,1)"}, {"calculate": "'+' + format(datum.v, '.0f') + '%'", "as": "lbl"}], "mark": {"type": "text", "font": "DejaVu Serif", "fontSize": 19, "fontWeight": "bold", "color": "#a51d23", "align": "center", "baseline": "alphabetic", "dy": -17}, "encoding": {"text": {"field": "lbl"}}},
        {"transform": [{"filter": "time(toDate(datum.m)) === utc(2024,3,1)"}], "mark": {"type": "text", "text": "Medical care", "font": "DejaVu Serif", "fontSize": 19, "color": "#1e1e1e", "align": "center", "baseline": "alphabetic"}, "encoding": {"x": {"datum": {"year": 2022, "month": 4, "date": 1, "utc": true}, "type": "temporal"}, "y": {"datum": 21.4, "type": "quantitative"}}}
      ]
    }
  ],
  "config": {
    "view": {"stroke": null},
    "axis": {"domain": true, "domainColor": "#999999", "domainWidth": 2.5, "tickColor": "#999999", "tickWidth": 2.5, "tickSize": 6, "grid": false},
    "axisX": {"domain": false, "labelFont": "DejaVu Sans", "labelFontSize": 17, "labelColor": "#7d7d7d", "labelOverlap": false, "labelFlush": false, "title": null},
    "axisY": {"domain": true, "ticks": true, "labelFont": "DejaVu Sans", "labelFontSize": 14.5, "labelColor": "#7d7d7d", "labelPadding": 12, "labelOverlap": false, "labelFlush": false, "title": null}
  }
}
